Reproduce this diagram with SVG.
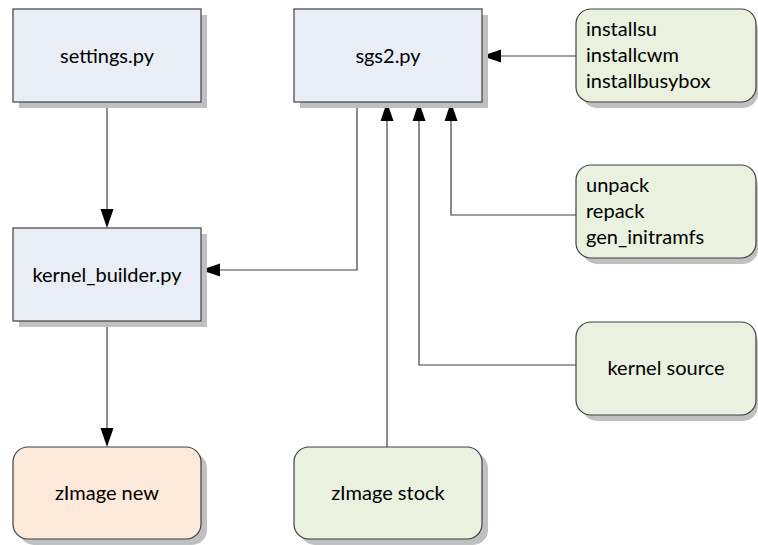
<svg xmlns="http://www.w3.org/2000/svg" width="758" height="545" viewBox="0 0 758 545">
<defs>
<style>
.shadow{fill:#c0c0c0;stroke:none}
.box{stroke:#404040;stroke-width:1.2}
.blue{fill:#e9edf5}
.green{fill:#ebf1df}
.peach{fill:#fde9da}
text{font-family:"Lato","Open Sans","Liberation Sans",sans-serif;font-size:20px;fill:#000}
.c{text-anchor:middle}
.edge{fill:none;stroke:#404040;stroke-width:1.2}
.head{fill:#000;stroke:none}
</style>
</defs>
<g id="connectors">
<path class="edge" d="M107,102 V212"/>
<polygon class="head" points="100.5,209 113.5,209 107,228"/>
<path class="edge" d="M357,102 V270 H218"/>
<polygon class="head" points="220,263.5 220,276.5 201,270"/>
<path class="edge" d="M107,321 V431"/>
<polygon class="head" points="100.5,428 113.5,428 107,447"/>
<path class="edge" d="M387,447 V119"/>
<polygon class="head" points="380.5,121 393.5,121 387,102"/>
<path class="edge" d="M576,365 H419 V119"/>
<polygon class="head" points="412.5,121 425.5,121 419,102"/>
<path class="edge" d="M576,215 H451 V119"/>
<polygon class="head" points="444.5,121 457.5,121 451,102"/>
<path class="edge" d="M576,56 H499"/>
<polygon class="head" points="501,49.5 501,62.5 482,56"/>
</g>
<g id="settings">
<rect class="shadow" x="19" y="15" width="188" height="93"/>
<rect class="box blue" x="13" y="9" width="188" height="93"/>
<text class="c" x="107" y="63">settings.py</text>
</g>
<g id="sgs2">
<rect class="shadow" x="300" y="15" width="188" height="93"/>
<rect class="box blue" x="294" y="9" width="188" height="93"/>
<text class="c" x="388" y="63">sgs2.py</text>
</g>
<g id="installers">
<rect class="shadow" x="582" y="15" width="176" height="93" rx="15"/>
<rect class="box green" x="576" y="9" width="180" height="93" rx="15"/>
<text x="586" y="36">installsu</text>
<text x="586" y="62">installcwm</text>
<text x="586" y="88">installbusybox</text>
</g>
<g id="unpack">
<rect class="shadow" x="582" y="171" width="176" height="93" rx="15"/>
<rect class="box green" x="576" y="165" width="180" height="93" rx="15"/>
<text x="586" y="192">unpack</text>
<text x="586" y="218">repack</text>
<text x="586" y="244">gen_initramfs</text>
</g>
<g id="kernel_source">
<rect class="shadow" x="582" y="328" width="176" height="93" rx="15"/>
<rect class="box green" x="576" y="322" width="180" height="93" rx="15"/>
<text class="c" x="666" y="375">kernel source</text>
</g>
<g id="kernel_builder">
<rect class="shadow" x="19" y="234" width="188" height="93"/>
<rect class="box blue" x="13" y="228" width="188" height="93"/>
<text class="c" x="107" y="282">kernel_builder.py</text>
</g>
<g id="zimage_new">
<rect class="shadow" x="19" y="453" width="188" height="92" rx="15"/>
<rect class="box peach" x="13" y="447" width="188" height="92" rx="15"/>
<text class="c" x="107" y="500">zImage new</text>
</g>
<g id="zimage_stock">
<rect class="shadow" x="300" y="453" width="188" height="92" rx="15"/>
<rect class="box green" x="294" y="447" width="188" height="92" rx="15"/>
<text class="c" x="388" y="500">zImage stock</text>
</g>
</svg>
